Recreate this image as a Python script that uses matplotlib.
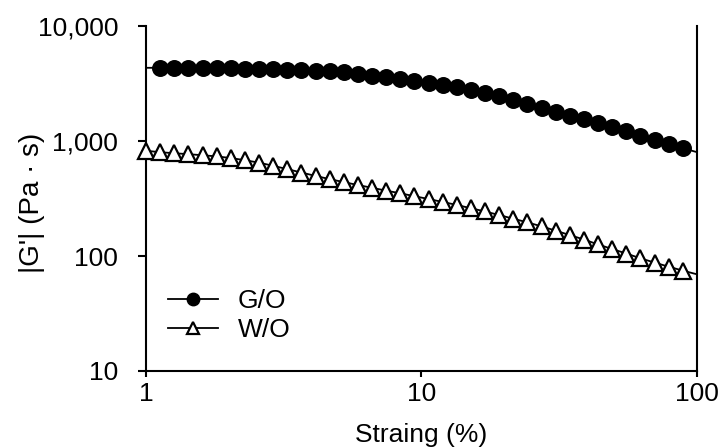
import matplotlib
matplotlib.use("Agg")
import matplotlib.pyplot as plt
from matplotlib.ticker import FixedLocator, FuncFormatter, NullLocator

plt.rcParams["font.family"] = ["Liberation Sans", "DejaVu Sans"]

# Strain sweep (%), 40 log-spaced points
strain = [1.000, 1.125, 1.266, 1.425, 1.604, 1.805, 2.031, 2.285, 2.572, 2.894,
          3.257, 3.665, 4.125, 4.642, 5.223, 5.878, 6.615, 7.443, 8.377, 9.427,
          10.61, 11.94, 13.43, 15.12, 17.01, 19.14, 21.54, 24.24, 27.28, 30.70,
          34.55, 38.88, 43.75, 49.24, 55.41, 62.35, 70.17, 78.96, 88.86, 100.0]

# |G'| of the two emulsions
go_vals = [4330, 4330, 4330, 4320, 4310, 4300, 4280, 4250, 4230, 4190,
           4150, 4110, 4080, 4030, 3950, 3840, 3710, 3590, 3460, 3345,
           3215, 3070, 2925, 2775, 2615, 2440, 2250, 2100, 1950, 1805,
           1665, 1540, 1425, 1315, 1210, 1115, 1025, 940, 865, 800]
wo_vals = [823, 799, 783, 768, 752, 735, 711, 681, 648, 609,
           569, 532, 497, 466, 439, 414, 392, 370, 351, 331,
           313, 295, 278, 260, 244, 227, 211, 196, 181, 166,
           152, 139, 126, 115, 105, 95.5, 87.6, 80.7, 74.6, 69.3]

x_ticks = [1, 10, 100]
y_ticks = [10, 100, 1000, 10000]

FS = 19
W, H = 723, 447
fig = plt.figure(figsize=(W / 100, H / 100), dpi=100)
ax = fig.add_axes([146 / W, 1 - 371 / H, (697 - 146) / W, (371 - 26) / H])

ax.plot(strain, go_vals, color="black", lw=1.3, marker="o", ms=11.2,
        mfc="black", mec="black", markevery=slice(1, 39), clip_on=False,
        label="G/O", zorder=3)
ax.plot(strain, wo_vals, color="black", lw=1.3, marker="^", ms=11.0,
        mfc="white", mec="black", mew=1.6, markevery=slice(0, 39),
        clip_on=False, label="W/O", zorder=4)

ax.set_xscale("log")
ax.set_yscale("log")
ax.set_xlim(1, 100)
ax.set_ylim(10, 10000)
ax.xaxis.set_major_locator(FixedLocator(x_ticks))
ax.yaxis.set_major_locator(FixedLocator(y_ticks))
ax.xaxis.set_minor_locator(NullLocator())
ax.yaxis.set_minor_locator(NullLocator())
ax.xaxis.set_major_formatter(FuncFormatter(lambda v, p: f"{v:g}"))
ax.yaxis.set_major_formatter(FuncFormatter(lambda v, p: f"{v:,.0f}"))

ax.spines["top"].set_visible(False)
for s in ["left", "bottom", "right"]:
    ax.spines[s].set_linewidth(1.5)
ax.tick_params(axis="y", which="major", direction="out", length=6, width=1.5,
               pad=14, labelsize=FS)
ax.tick_params(axis="x", which="major", direction="out", length=4, width=1.5,
               pad=4, labelsize=FS)

ax.set_xlabel("Straing (%)", fontsize=FS)
ax.set_ylabel("|G'| (Pa · s)", fontsize=20)
ax.xaxis.set_label_coords(0.5, (371 - 423) / 345)
ax.yaxis.set_label_coords((45 - 146) / 551, (371 - 203) / 345)

ax.legend(loc="upper left", bbox_to_anchor=(168 / W, 1 - 289 / H),
          bbox_transform=fig.transFigure, frameon=False, fontsize=FS,
          borderpad=0, borderaxespad=0, handlelength=1.9, handletextpad=0.75,
          labelspacing=0.2, markerscale=0.8)

fig.savefig("out.png", dpi=100)
